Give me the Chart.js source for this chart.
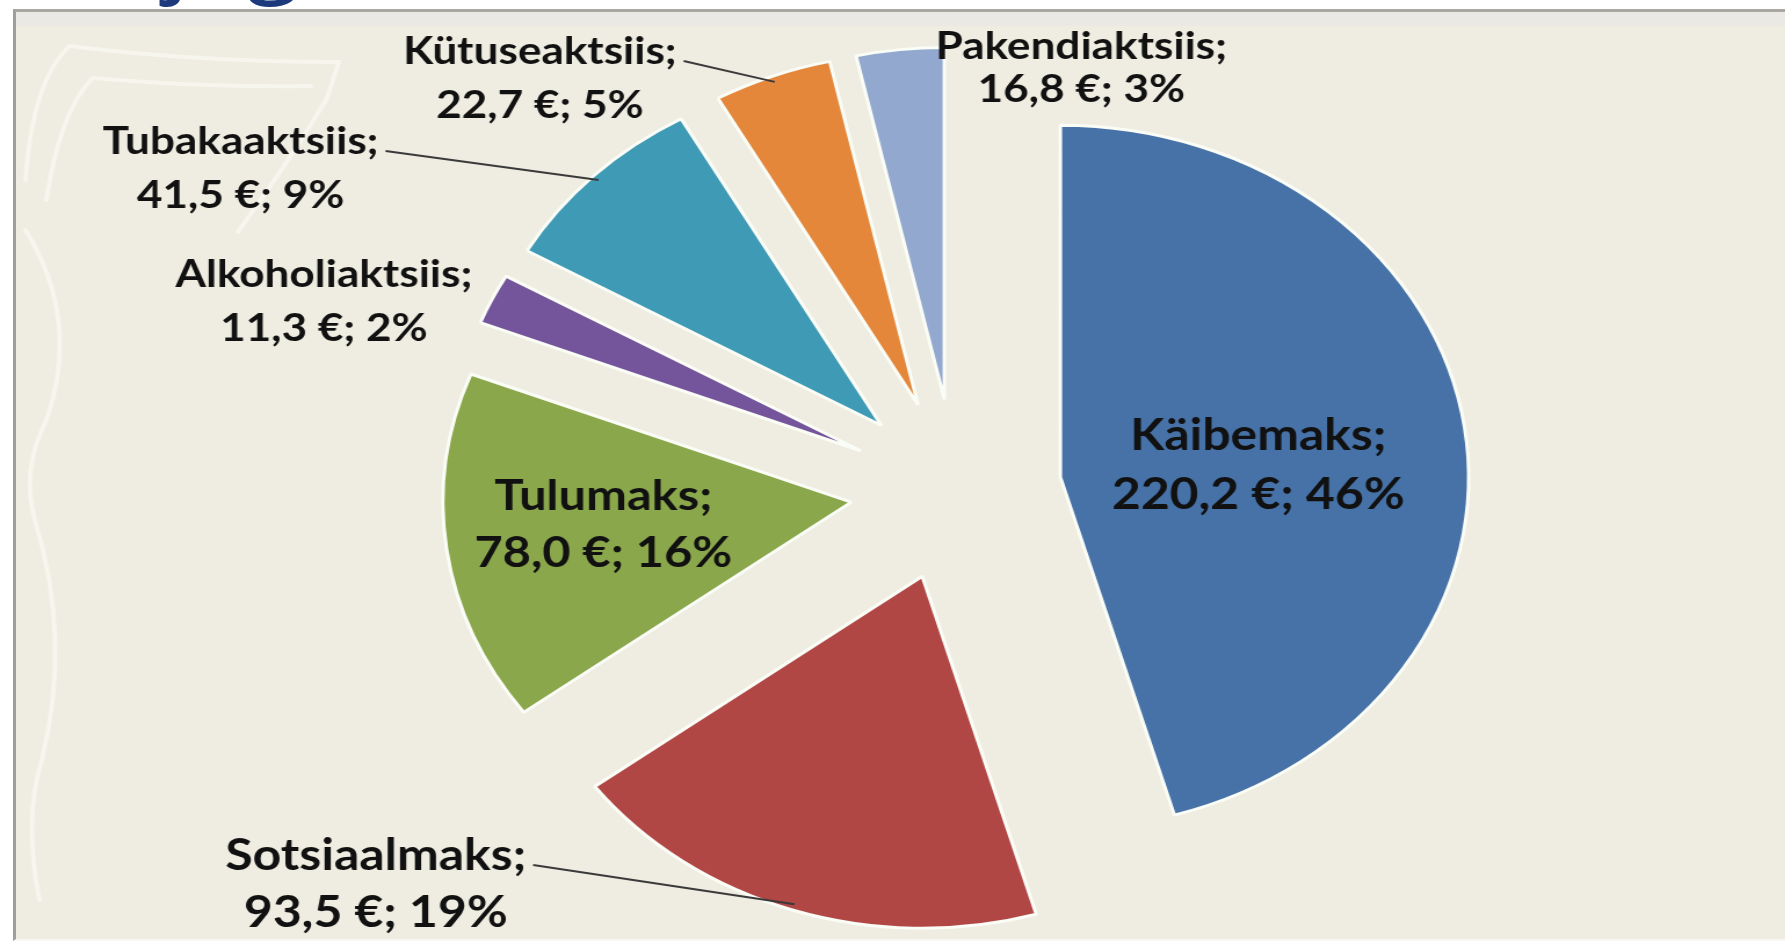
<!DOCTYPE html>
<html lang="et">
<head>
  <meta charset="UTF-8">
  <title>Maksutulu jagunemine</title>
  <style>
    html, body {
      margin: 0;
      padding: 0;
      background: #ffffff;
      width: 1785px;
      height: 948px;
      overflow: hidden;
    }

    .title {
      position: absolute;
      left: 0;
      top: 0;
      width: 1785px;
      height: 9px;
      overflow: hidden;
    }

    .title span {
      position: absolute;
      left: 165px;
      top: -106px;
      font-family: 'Open Sans', sans-serif;
      font-size: 100px;
      line-height: 100px;
      color: #1d3b7c;
      white-space: nowrap;
    }

    .frame {
      position: absolute;
      left: 13px;
      top: 9px;
      width: 1772px;
      height: 932px;
      background: #efede1;
      border-top: 3px solid #aaa7a1;
      border-left: 3px solid #a19e99;
      border-bottom: 2px solid #f8f7f2;
      box-sizing: border-box;
    }

    .frame .band {
      height: 14px;
      background: #ebe9e3;
    }

    .stretch {
      position: absolute;
      left: 0;
      top: 0;
      transform: scaleX(1.16);
      transform-origin: 0 0;
    }

    canvas {
      display: block;
    }
  </style>

  <script src="https://cdn.jsdelivr.net/npm/chart.js"></script>
</head>
<body>
  <div class="title"><span>jagunemine</span></div>
  <div class="frame"><div class="band"></div></div>

  <div class="stretch">
    <canvas id="taxChart" width="1539" height="948" style="width:1539px;height:948px"></canvas>
  </div>

  <script>
    // andmed (loetud pildilt)
    const categories = ['Käibemaks', 'Sotsiaalmaks', 'Tulumaks', 'Alkoholiaktsiis', 'Tubakaaktsiis', 'Kütuseaktsiis', 'Pakendiaktsiis'];
    const amounts = [220.2, 93.5, 78.0, 11.3, 41.5, 22.7, 16.8];
    const percents = [46, 19, 16, 2, 9, 5, 3];

    const sliceColors = ['#4672a8', '#b14745', '#8aa74b', '#74549a', '#3f9ab6', '#e4873a', '#93a8cf'];

    // sildi asukoht: nurk (kraadides, kellaosuti suunas ülevalt) ja kaugus lõigu tipust
    const labelSpots = [
      { angle: 86, dist: 171, size: 43, gap: 59, line: false },
      { angle: 236.8, dist: 563, size: 43, gap: 57, line: true },
      { angle: 263.8, dist: 215, size: 42, gap: 57, line: false },
      { angle: 287.8, dist: 486, size: 38, gap: 54, line: false },
      { angle: 294.9, dist: 609, size: 38, gap: 54, line: true },
      { angle: 315, dist: 461, size: 38, gap: 54, line: true },
      { angle: 19.6, dist: 352, size: 38, gap: 43, line: false }
    ];

    const explode = 91;   // lõikude eraldus
    const pieRadius = 352;

    function euro(v) {
      return v.toFixed(1).replace('.', ',') + ' €; ';
    }

    // taustamuster vasakul
    const backdrop = {
      id: 'backdrop',
      beforeDatasetsDraw(chart) {
        const ctx = chart.ctx;
        ctx.save();
        ctx.strokeStyle = 'rgba(255,255,255,0.45)';
        ctx.lineWidth = 4;
        ctx.lineCap = 'round';
        ctx.beginPath();
        ctx.moveTo(22, 180);
        ctx.quadraticCurveTo(28, 80, 60, 46);
        ctx.quadraticCurveTo(170, 62, 292, 62);
        ctx.lineTo(282, 98);
        ctx.quadraticCurveTo(250, 160, 205, 232);
        ctx.stroke();
        ctx.beginPath();
        ctx.moveTo(40, 200);
        ctx.quadraticCurveTo(52, 110, 80, 78);
        ctx.quadraticCurveTo(180, 88, 268, 86);
        ctx.stroke();
        ctx.beginPath();
        ctx.moveTo(22, 230);
        ctx.quadraticCurveTo(70, 320, 40, 420);
        ctx.quadraticCurveTo(18, 470, 30, 520);
        ctx.quadraticCurveTo(62, 640, 36, 760);
        ctx.quadraticCurveTo(20, 820, 34, 900);
        ctx.stroke();
        ctx.restore();
      }
    };

    // lõigud nihutatakse keskpunktist eemale
    const explodeSlices = {
      id: 'explodeSlices',
      afterDatasetUpdate(chart) {
        chart.getDatasetMeta(0).data.forEach(arc => {
          const mid = (arc.startAngle + arc.endAngle) / 2;
          arc.x += Math.cos(mid) * explode;
          arc.y += Math.sin(mid) * explode;
        });
      }
    };

    const sliceLabels = {
      id: 'sliceLabels',
      afterDatasetsDraw(chart) {
        const ctx = chart.ctx;
        const arcs = chart.getDatasetMeta(0).data;
        ctx.save();
        ctx.fillStyle = '#111111';
        ctx.textAlign = 'center';
        ctx.textBaseline = 'middle';
        arcs.forEach((arc, i) => {
          const spot = labelSpots[i];
          const a = spot.angle * Math.PI / 180 - Math.PI / 2;
          const cx = arc.x + Math.cos(a) * spot.dist;
          const cy = arc.y + Math.sin(a) * spot.dist;
          const first = categories[i] + ';';
          const second = euro(amounts[i]) + percents[i] + '%';
          ctx.font = 'bold ' + spot.size + 'px Lato, "Open Sans", sans-serif';
          ctx.fillText(first, cx, cy - spot.gap / 2);
          ctx.fillText(second, cx, cy + spot.gap / 2);

          if (spot.line) {
            const w = ctx.measureText(first).width;
            const mid = (arc.startAngle + arc.endAngle) / 2;
            ctx.beginPath();
            ctx.strokeStyle = '#3a3a3a';
            ctx.lineWidth = 2;
            ctx.moveTo(cx + w / 2 + 6, cy - spot.gap / 2 + 9);
            ctx.lineTo(arc.x + Math.cos(mid) * (arc.outerRadius - 6), arc.y + Math.sin(mid) * (arc.outerRadius - 6));
            ctx.stroke();
          }
        });
        ctx.restore();
      }
    };

    const ctx = document.getElementById('taxChart').getContext('2d');
    const taxChart = new Chart(ctx, {
      type: 'pie',
      data: {
        labels: categories,
        datasets: [{
          data: amounts,
          backgroundColor: sliceColors,
          borderColor: '#fafcf6',
          borderWidth: 3
        }]
      },
      options: {
        responsive: false,
        animation: false,
        devicePixelRatio: 1,
        events: [],
        radius: pieRadius,
        layout: {
          padding: { left: 109, top: 32, right: 0, bottom: 0 }
        },
        plugins: {
          legend: { display: false },
          tooltip: { enabled: false }
        }
      },
      plugins: [backdrop, explodeSlices, sliceLabels]
    });
  </script>
</body>
</html>
